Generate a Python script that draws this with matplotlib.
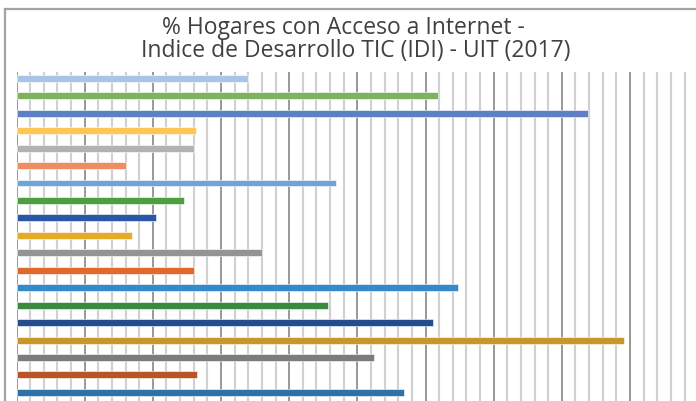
import numpy as np
import matplotlib
matplotlib.use("Agg")
import matplotlib.pyplot as plt
from matplotlib.lines import Line2D

# % of households with internet access, top to bottom as shown
values = [34.0, 61.9, 83.9, 26.3, 26.0, 16.0, 46.9, 24.5, 20.4, 16.9,
          36.0, 26.1, 64.8, 45.7, 61.1, 89.1, 52.4, 26.5, 56.9]
colors = ["#A9C4E6", "#7DB25E", "#5F7FC5", "#FDC655", "#B2B2B2", "#EE8D62",
          "#6FA4D8", "#4C9E3F", "#2B56A6", "#E5AA28", "#949494", "#E06A2B",
          "#3489C9", "#3A8A3E", "#264C90", "#C8962B", "#7C7C7C", "#B85426",
          "#2C72A8"]
title_lines = ["% Hogares con Acceso a Internet -",
               "Indice de Desarrollo TIC (IDI) - UIT (2017)"]

W, H = 696, 401
fig = plt.figure(figsize=(W / 100, H / 100), dpi=100)

# axes geometry in pixels (chart is cropped at the right and bottom)
x0, px_per_unit = 16.5, 6.817
y_top, y_bot = 72, 420
band = 17.45
ax = fig.add_axes([x0 / W, 1 - y_bot / H, 100 * px_per_unit / W, (y_bot - y_top) / H])

pos = np.arange(len(values))
ax.barh(pos, values, height=0.40, color=colors, edgecolor="white",
        linewidth=0.4, zorder=3)

ax.set_xlim(0, 100)
ax.set_ylim((y_bot - 78.3) / band, -(78.3 - y_top) / band)

# grid: light minor lines every 2, darker major every 10
for v in np.arange(0, 101, 2):
    major = v % 10 == 0
    ax.axvline(v, color="#989898" if major else "#d0d0d0",
               lw=1.4 if major else 1.5, zorder=1)

ax.set_xticks([])
ax.set_yticks([])
for s in ax.spines.values():
    s.set_visible(False)

# outer chart frame
fig.add_artist(Line2D([5 / W, 1.01], [1 - 8.5 / H, 1 - 8.5 / H],
                      transform=fig.transFigure, color="#a3a3a3", lw=1.6))
fig.add_artist(Line2D([5 / W, 5 / W], [1 - 8.5 / H, -0.01],
                      transform=fig.transFigure, color="#a3a3a3", lw=1.6))

# title, two lines (second one sits a bit further right in the original)
for txt, cx, cy in zip(title_lines, [343, 356], [28, 51]):
    fig.text(cx / W, 1 - cy / H, txt, ha="center", va="center",
             fontsize=16.5, color="#404040", family="Open Sans")

fig.savefig("out.png", dpi=100)
